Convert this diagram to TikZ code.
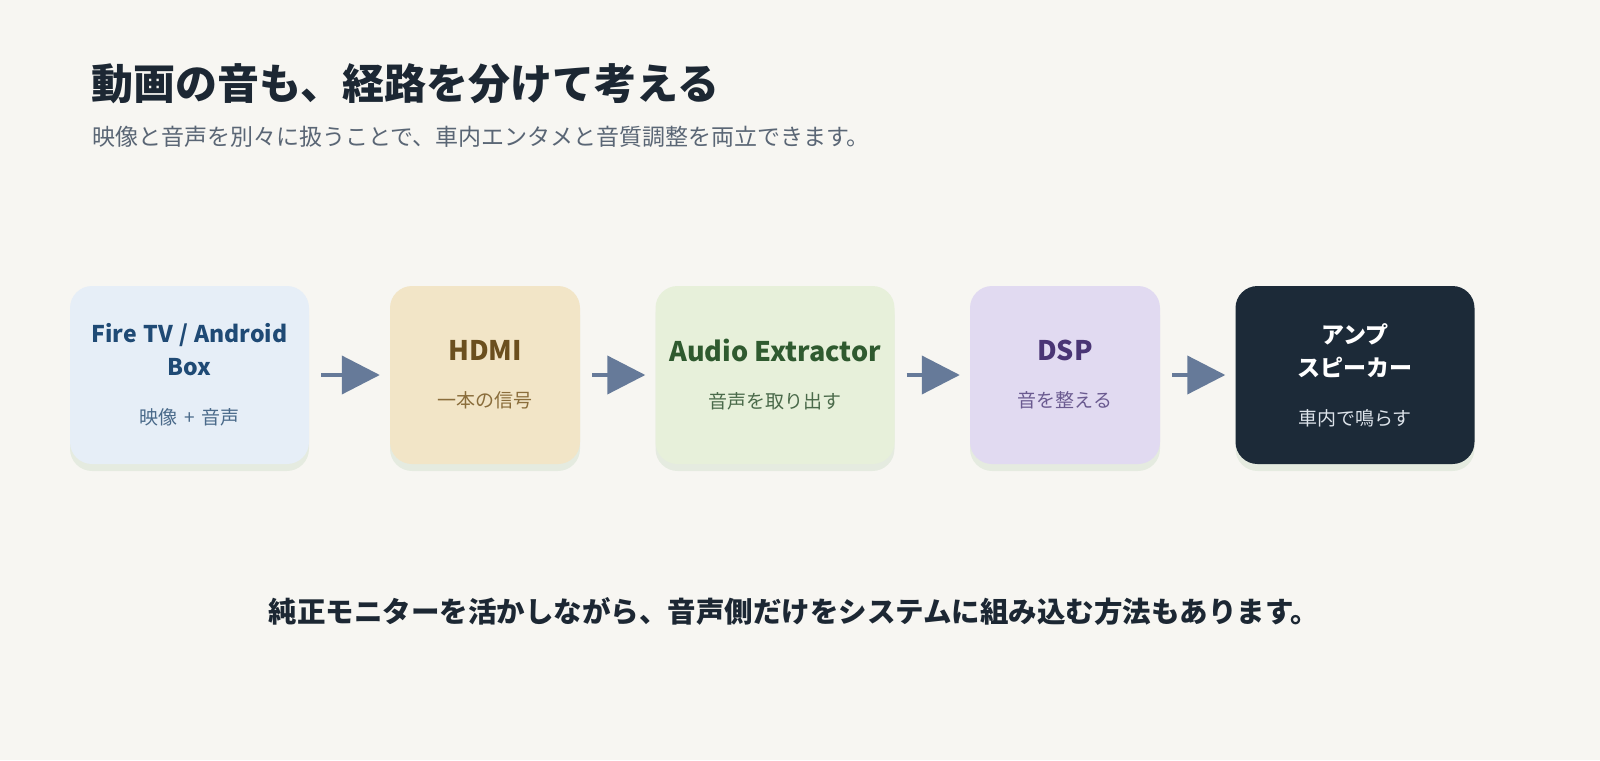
\documentclass[tikz,border=0pt]{standalone}
\usepackage{fontspec}
\setmainfont{Noto Sans CJK JP}
\usetikzlibrary{positioning,shadows,arrows.meta}
\definecolor{bgpaper}{HTML}{F7F6F2}
\definecolor{inkdark}{HTML}{1C2733}
\definecolor{inksub}{HTML}{5A6675}
\definecolor{arrowc}{HTML}{667A99}
\definecolor{srcfill}{HTML}{E6EEF7}\definecolor{srchead}{HTML}{1F4A75}\definecolor{srctext}{HTML}{4A6A8A}
\definecolor{hdmifill}{HTML}{F2E5C7}\definecolor{hdmihead}{HTML}{6B4F1E}\definecolor{hdmitext}{HTML}{8A6D3B}
\definecolor{extfill}{HTML}{E7F0DA}\definecolor{exthead}{HTML}{2F5A2F}\definecolor{exttext}{HTML}{4A6A4A}
\definecolor{dspfill}{HTML}{E1DAF1}\definecolor{dsphead}{HTML}{4A3575}\definecolor{dsptext}{HTML}{6A5A90}
\definecolor{ampfill}{HTML}{1C2A38}\definecolor{amptext}{HTML}{DDE3EA}
\tikzset{
  stage/.style={rounded corners=22pt, minimum width=239pt, minimum height=178pt,
    text width=230pt, align=center, inner sep=0pt, font=\fontsize{19}{33}\selectfont,
    drop shadow={shadow xshift=0pt, shadow yshift=-7pt, opacity=.07, fill=black!60!green}},
  narrow/.style={minimum width=190pt, text width=185pt},
  flow/.style={arrowc, line width=4pt, -{Triangle[length=38pt,width=38pt]}, shorten <=12pt, shorten >=10pt}
}
\newcommand{\stagetitle}[1]{{\fontsize{23}{33}\selectfont\bfseries #1}\\[16pt]}
\newcommand{\bigtitle}[1]{{\fontsize{27}{33}\selectfont\bfseries #1}\\[14pt]}
\begin{document}
\begin{tikzpicture}[x=1pt,y=-1pt]
\fill[bgpaper] (0,0) rectangle (1600,760);
\useasboundingbox (0,0) rectangle (1600,760);

\node[anchor=west, text=inkdark, font=\fontsize{42}{48}\selectfont\bfseries] (title) at (88,84) {動画の音も、経路を分けて考える};
\node[anchor=west, text=inksub, font=\fontsize{23}{28}\selectfont] (subtitle) at (89,137) {映像と音声を別々に扱うことで、車内エンタメと音質調整を両立できます。};

\node[stage, fill=srcfill, text=srctext] (src) at (189.5,375)
  {\textcolor{srchead}{\stagetitle{Fire TV / Android\\Box}}映像 + 音声};
\node[stage, narrow, fill=hdmifill, text=hdmitext] (hdmi) at (485,375)
  {\textcolor{hdmihead}{\bigtitle{HDMI}}一本の信号};
\node[stage, fill=extfill, text=exttext] (extract) at (775,375)
  {\textcolor{exthead}{\bigtitle{Audio Extractor}}音声を取り出す};
\node[stage, narrow, fill=dspfill, text=dsptext] (dsp) at (1065,375)
  {\textcolor{dsphead}{\bigtitle{DSP}}音を整える};
\node[stage, fill=ampfill, text=amptext] (amp) at (1355,375)
  {\textcolor{white}{\stagetitle{アンプ\\スピーカー}}車内で鳴らす};

\draw[flow] (src) -- (hdmi);
\draw[flow] (hdmi) -- (extract);
\draw[flow] (extract) -- (dsp);
\draw[flow] (dsp) -- (amp);

\node[text=inkdark, font=\fontsize{28.5}{34}\selectfont\bfseries] (note) at (794,611) {純正モニターを活かしながら、音声側だけをシステムに組み込む方法もあります。};
\end{tikzpicture}
\end{document}
